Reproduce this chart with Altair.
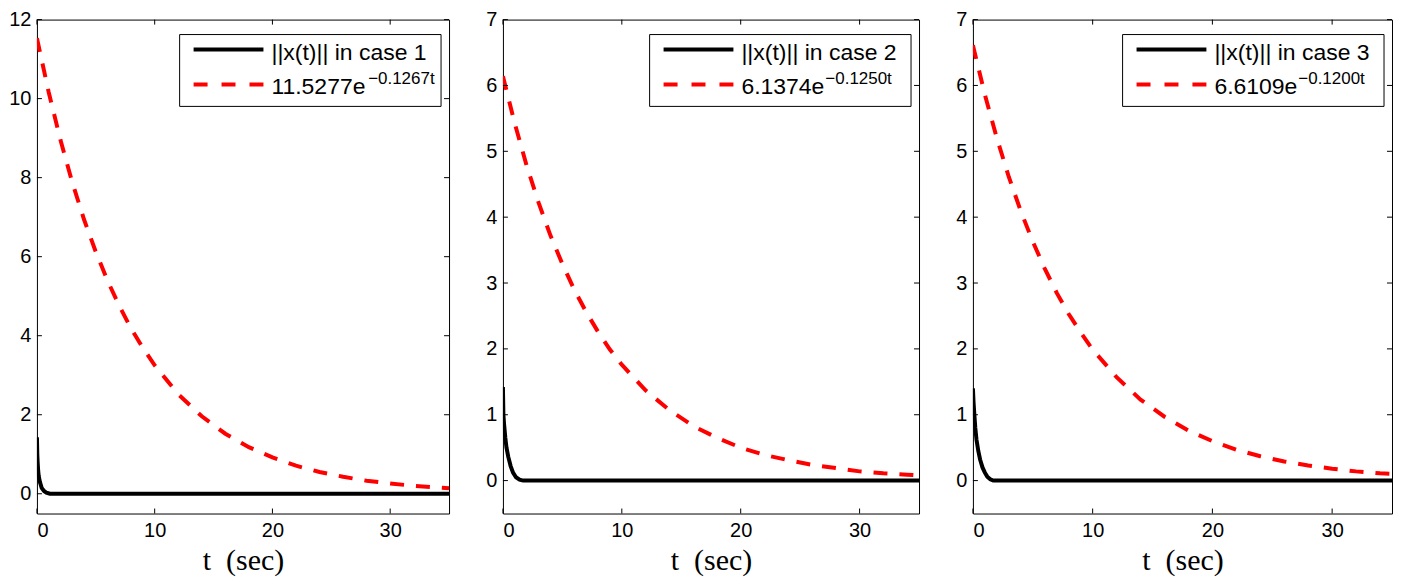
import altair as alt
import pandas as pd

# ---------------- data ----------------
t_red = [0, 1, 2, 3, 4, 5, 6, 7, 8, 9, 10, 12, 14, 16, 18, 20, 22, 24, 26, 28, 30, 32, 34, 35]
red_case1 = [11.53, 10.16, 8.95, 7.88, 6.94, 6.12, 5.39, 4.75, 4.18, 3.69, 3.25, 2.52, 1.96, 1.52,
             1.18, 0.92, 0.71, 0.55, 0.43, 0.33, 0.26, 0.20, 0.16, 0.14]
red_case2 = [6.14, 5.42, 4.78, 4.22, 3.72, 3.29, 2.90, 2.56, 2.26, 1.99, 1.76, 1.37, 1.07, 0.83,
             0.65, 0.50, 0.39, 0.31, 0.24, 0.19, 0.14, 0.11, 0.09, 0.08]
red_case3 = [6.61, 5.86, 5.20, 4.61, 4.09, 3.63, 3.22, 2.85, 2.53, 2.25, 1.99, 1.57, 1.23, 0.97,
             0.76, 0.60, 0.47, 0.37, 0.29, 0.23, 0.18, 0.14, 0.11, 0.10]

t_blk_case1 = [0, 0.03, 0.06, 0.1, 0.15, 0.25, 0.4, 0.6, 0.8, 1.1, 35]
blk_case1 = [1.43, 1.0, 0.8, 0.6, 0.45, 0.3, 0.15, 0.07, 0.03, 0.0, 0.0]
t_blk_case2 = [0, 0.04, 0.1, 0.2, 0.3, 0.45, 0.65, 0.85, 1.1, 1.4, 1.7, 35]
blk_case2 = [1.42, 1.0, 0.85, 0.65, 0.5, 0.36, 0.22, 0.12, 0.05, 0.015, 0.0, 0.0]
t_blk_case3 = [0, 0.05, 0.12, 0.2, 0.3, 0.45, 0.6, 0.8, 1.0, 1.2, 1.45, 1.7, 35]
blk_case3 = [1.4, 1.2, 1.0, 0.8, 0.62, 0.45, 0.32, 0.2, 0.12, 0.06, 0.02, 0.0, 0.0]

case_names = ["||x(t)|| in case 1", "||x(t)|| in case 2", "||x(t)|| in case 3"]
coef_labels = ["11.5277e", "6.1374e", "6.6109e"]
exp_labels = ["\u22120.1267t", "\u22120.1250t", "\u22120.1200t"]
x_title = "t\u00a0\u00a0(sec)"

x_ticks = [0, 10, 20, 30]
y_ticks = [[0, 2, 4, 6, 8, 10, 12], [0, 1, 2, 3, 4, 5, 6, 7], [0, 1, 2, 3, 4, 5, 6, 7]]
y_max = [12, 7, 7]

reds = [red_case1, red_case2, red_case3]
blk_t = [t_blk_case1, t_blk_case2, t_blk_case3]
blk_v = [blk_case1, blk_case2, blk_case3]

# ---------------- layout / style ----------------
widths = [413, 417, 420]
H = 495
LEG_FS = 23
EXP_FS = 17
TICK_LEN = 5
CHAR_W = {".": 0.278}


def text_width(s, fs):
    return sum(CHAR_W.get(c, 0.556) for c in s) * fs


def panel(i):
    W = widths[i]
    xs = alt.Scale(domain=[0, 35], nice=False, zero=False)
    ys = alt.Scale(domain=[-0.5, y_max[i]], nice=False, zero=False)
    ax_common = dict(ticks=False, domain=False, grid=False, labelFont="Liberation Sans",
                     labelFontSize=20, labelColor="black")
    xaxis = alt.Axis(values=x_ticks, title=x_title, labelPadding=7, titlePadding=5,
                     titleFont="Liberation Serif", titleFontSize=30, titleFontWeight="normal",
                     titleColor="black", **ax_common)
    yaxis = alt.Axis(values=y_ticks[i], title=None, labelPadding=6, **ax_common)
    X = lambda f: alt.X(f, scale=xs, axis=xaxis)
    Y = lambda f: alt.Y(f, scale=ys, axis=yaxis)

    red_df = pd.DataFrame({"t": t_red, "v": reds[i]})
    blk_df = pd.DataFrame({"t": blk_t[i], "v": blk_v[i]})
    xt_df = pd.DataFrame({"t": x_ticks})
    yt_df = pd.DataFrame({"v": y_ticks[i]})
    one = pd.DataFrame({"a": [0]})

    red = alt.Chart(red_df).mark_line(color="#ff0000", strokeWidth=4, strokeDash=[14, 12],
                                      clip=True).encode(x=X("t:Q"), y=Y("v:Q"))
    blk = alt.Chart(blk_df).mark_line(color="black", strokeWidth=4, clip=True).encode(
        x=X("t:Q"), y=Y("v:Q"))

    xt_bot = alt.Chart(xt_df).mark_rule(color="black", strokeWidth=1).encode(
        x=X("t:Q"), y=alt.value(H), y2=alt.value(H - TICK_LEN))
    xt_top = alt.Chart(xt_df).mark_rule(color="black", strokeWidth=1).encode(
        x=X("t:Q"), y=alt.value(0), y2=alt.value(TICK_LEN))
    yt_left = alt.Chart(yt_df).mark_rule(color="black", strokeWidth=1).encode(
        y=Y("v:Q"), x=alt.value(0), x2=alt.value(TICK_LEN))
    yt_right = alt.Chart(yt_df).mark_rule(color="black", strokeWidth=1).encode(
        y=Y("v:Q"), x=alt.value(W - TICK_LEN), x2=alt.value(W))

    bl = W - 270  # legend box left
    box = alt.Chart(one).mark_rect(fill="white", stroke="black", strokeWidth=1).encode(
        x=alt.value(bl), x2=alt.value(W - 8), y=alt.value(15), y2=alt.value(87))
    leg_blk = alt.Chart(one).mark_rule(color="black", strokeWidth=4).encode(
        x=alt.value(bl + 14), x2=alt.value(bl + 84), y=alt.value(30))
    leg_red = alt.Chart(one).mark_rule(color="#ff0000", strokeWidth=4, strokeDash=[14, 14]).encode(
        x=alt.value(bl + 14), x2=alt.value(bl + 84), y=alt.value(65))
    txt_kw = dict(align="left", baseline="alphabetic", font="Liberation Sans", color="black")
    leg_t1 = alt.Chart(one).mark_text(fontSize=LEG_FS, **txt_kw).encode(
        x=alt.value(bl + 92), y=alt.value(40), text=alt.value(case_names[i]))
    leg_t2 = alt.Chart(one).mark_text(fontSize=LEG_FS, **txt_kw).encode(
        x=alt.value(bl + 92), y=alt.value(75), text=alt.value(coef_labels[i]))
    leg_t3 = alt.Chart(one).mark_text(fontSize=EXP_FS, **txt_kw).encode(
        x=alt.value(bl + 93 + text_width(coef_labels[i], LEG_FS)), y=alt.value(65),
        text=alt.value(exp_labels[i]))

    return alt.layer(red, blk, xt_bot, xt_top, yt_left, yt_right,
                     box, leg_blk, leg_red, leg_t1, leg_t2, leg_t3).properties(width=W, height=H)


chart = alt.hconcat(panel(0), panel(1), panel(2), spacing=35, padding=0,
                    background="white").configure_view(stroke="black", strokeWidth=1)

chart.save("out.html", embed_options={"renderer": "svg", "actions": False})
